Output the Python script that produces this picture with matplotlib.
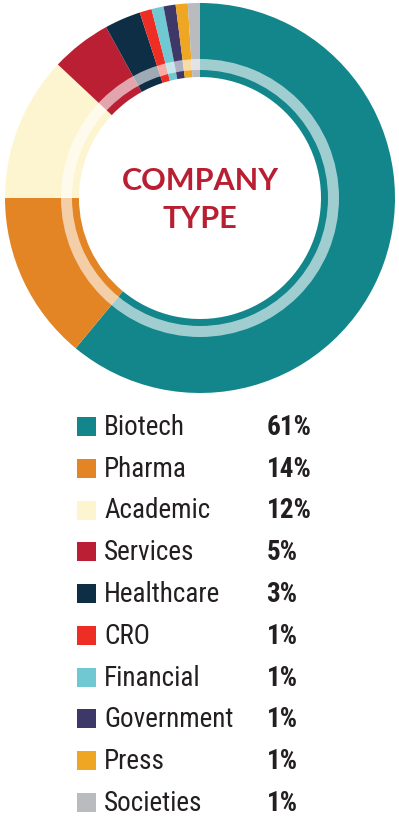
import matplotlib
matplotlib.use("Agg")
import matplotlib.pyplot as plt
from matplotlib.patches import Rectangle

categories = ["Biotech", "Pharma", "Academic", "Services", "Healthcare",
              "CRO", "Financial", "Government", "Press", "Societies"]
values = [61, 14, 12, 5, 3, 1, 1, 1, 1, 1]
labels = ["61%", "14%", "12%", "5%", "3%", "1%", "1%", "1%", "1%", "1%"]
colors = ["#13868C", "#E38524", "#FDF5D0", "#BB1F33", "#0E2E45",
          "#EE2E24", "#6FC8D2", "#3E3868", "#EFA622", "#B9BBBE"]

W, H = 399, 819
fig = plt.figure(figsize=(W / 100, H / 100), dpi=100)
fig.patch.set_facecolor("white")

# donut axes: center (200,198) px, radius 195 px
cx, cy, R = 200, 198, 195
ax = fig.add_axes([(cx - R) / W, (H - cy - R) / H, 2 * R / W, 2 * R / H])
ax.pie(values, colors=colors, startangle=90, counterclock=False, radius=1.0,
       wedgeprops=dict(width=1 - 121 / 195, linewidth=0))
# translucent inner ring
ax.pie([1], colors=["white"], radius=139 / 195,
       wedgeprops=dict(width=11 / 195, linewidth=0, alpha=0.6))
ax.set_xlim(-1, 1)
ax.set_ylim(-1, 1)
ax.set_aspect("equal")
ax.axis("off")
title_font = ["Lato", "Roboto", "DejaVu Sans"]
ax.text(0, (198 - 181) / R, "COMPANY", ha="center", va="center", color="#B91F33",
        fontsize=22, fontweight="bold", family=title_font)
ax.text(0, (198 - 219) / R, "TYPE", ha="center", va="center", color="#B91F33",
        fontsize=22, fontweight="bold", family=title_font)

# legend axes in pixel coordinates
lx = fig.add_axes([0, 0, 1, 1])
lx.set_xlim(0, W)
lx.set_ylim(H, 0)
lx.axis("off")
leg_font = ["Roboto Condensed", "Roboto", "DejaVu Sans"]
y0, dy = 426.5, 41.75
for i, (cat, col, lab) in enumerate(zip(categories, colors, labels)):
    y = y0 + i * dy
    lx.add_patch(Rectangle((77, y - 9.5), 19, 19, facecolor=col, edgecolor="none"))
    lx.text(104, y + 1, cat, ha="left", va="center", fontsize=19.5,
            color="#231F20", family=leg_font)
    lx.text(266.5, y + 1, lab, ha="left", va="center", fontsize=19.5,
            color="#231F20", family=leg_font, fontweight="bold")

fig.savefig("out.png", dpi=100)
